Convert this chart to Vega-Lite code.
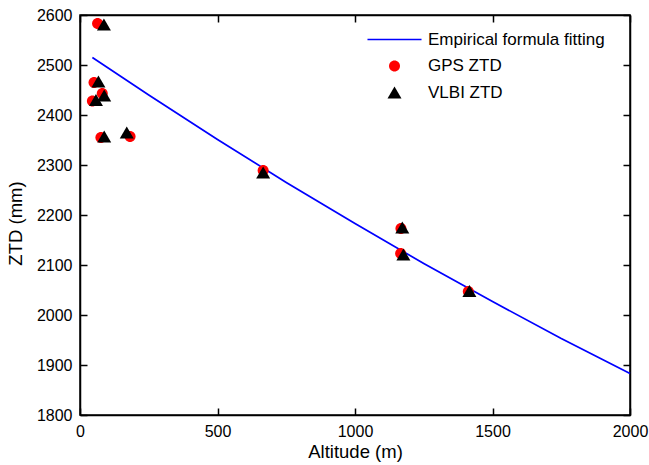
{
  "$schema": "https://vega.github.io/schema/vega-lite/v6.json",
  "width": 550,
  "height": 400,
  "autosize": {"type": "none"},
  "padding": {"left": 80, "top": 15, "right": 19, "bottom": 50},
  "background": "white",
  "config": {
    "font": "Liberation Sans",
    "view": {"stroke": "black", "strokeWidth": 1.5},
    "axis": {
      "domainColor": "black", "domainWidth": 1.5, "tickColor": "black", "tickWidth": 1.5, "ticks": true,
      "tickSize": -7, "grid": false, "labelFont": "Liberation Sans", "labelFontSize": 16,
      "labelColor": "black", "titleFont": "Liberation Sans", "titleFontSize": 18.5,
      "titleFontWeight": "normal", "titleColor": "black", "labelPadding": 15, "format": "d",
      "labelFlush": false, "labelOverlap": false
    },
    "legend": {"labelFont": "Liberation Sans", "labelFontSize": 17, "labelColor": "black", "labelLimit": 400}
  },
  "datasets": {
    "fit": [
      {"alt": 45, "ztd": 2515}, {"alt": 250, "ztd": 2440}, {"alt": 500, "ztd": 2351},
      {"alt": 750, "ztd": 2265}, {"alt": 1000, "ztd": 2183}, {"alt": 1250, "ztd": 2103},
      {"alt": 1500, "ztd": 2027}, {"alt": 1750, "ztd": 1953}, {"alt": 2000, "ztd": 1883}
    ],
    "pts": [
      {"series": "GPS ZTD", "alt": 64, "ztd": 2583},
      {"series": "GPS ZTD", "alt": 51, "ztd": 2465},
      {"series": "GPS ZTD", "alt": 81, "ztd": 2443},
      {"series": "GPS ZTD", "alt": 45, "ztd": 2428},
      {"series": "GPS ZTD", "alt": 76, "ztd": 2355},
      {"series": "GPS ZTD", "alt": 182, "ztd": 2357},
      {"series": "GPS ZTD", "alt": 666, "ztd": 2289},
      {"series": "GPS ZTD", "alt": 1167, "ztd": 2173},
      {"series": "GPS ZTD", "alt": 1166, "ztd": 2123},
      {"series": "GPS ZTD", "alt": 1412, "ztd": 2047},
      {"series": "VLBI ZTD", "alt": 87, "ztd": 2581},
      {"series": "VLBI ZTD", "alt": 67, "ztd": 2467},
      {"series": "VLBI ZTD", "alt": 88, "ztd": 2439},
      {"series": "VLBI ZTD", "alt": 58, "ztd": 2430},
      {"series": "VLBI ZTD", "alt": 88, "ztd": 2357},
      {"series": "VLBI ZTD", "alt": 170, "ztd": 2365},
      {"series": "VLBI ZTD", "alt": 666, "ztd": 2285},
      {"series": "VLBI ZTD", "alt": 1172, "ztd": 2175},
      {"series": "VLBI ZTD", "alt": 1176, "ztd": 2121},
      {"series": "VLBI ZTD", "alt": 1416, "ztd": 2048}
    ]
  },
  "layer": [
    {
      "data": {"name": "fit"},
      "mark": {"type": "line", "color": "#0000ff", "strokeWidth": 1.7},
      "encoding": {
        "x": {"field": "alt", "type": "quantitative", "scale": {"domain": [0, 2000], "nice": false},
              "axis": {"values": [0, 500, 1000, 1500, 2000], "title": "Altitude (m)", "titleY": 36, "titleBaseline": "middle"}},
        "y": {"field": "ztd", "type": "quantitative", "scale": {"domain": [1800, 2600], "nice": false, "zero": false},
              "axis": {"values": [1800, 1900, 2000, 2100, 2200, 2300, 2400, 2500, 2600], "title": "ZTD (mm)", "titleX": -65, "titleY": 208, "titleBaseline": "middle"}}
      }
    },
    {
      "data": {"name": "pts"},
      "mark": {"type": "point", "filled": true, "opacity": 1, "size": 196},
      "encoding": {
        "x": {"field": "alt", "type": "quantitative", "axis": {"orient": "top", "labels": false, "title": null, "values": [0, 500, 1000, 1500, 2000]}},
        "y": {"field": "ztd", "type": "quantitative", "axis": {"orient": "right", "labels": false, "title": null, "values": [1800, 1900, 2000, 2100, 2200, 2300, 2400, 2500, 2600]}},
        "color": {"field": "series", "type": "nominal",
          "scale": {"domain": ["Empirical formula fitting", "GPS ZTD", "VLBI ZTD"], "range": ["#0000ff", "#ff0000", "#000000"]},
          "legend": {"title": null, "orient": "none", "legendX": 306, "legendY": 16, "padding": 0, "symbolSize": 196, "labelOffset": 25, "rowPadding": 7.5, "gridAlign": "all", "symbolOpacity": 1, "labelLimit": 400}},
        "shape": {"field": "series", "type": "nominal",
          "scale": {"domain": ["Empirical formula fitting", "GPS ZTD", "VLBI ZTD"],
                    "range": ["M-3.86,-0.12H3.86V0.12H-3.86Z", "M-0.786,0A0.786,0.786,0,1,1,0.786,0A0.786,0.786,0,1,1,-0.786,0Z", "triangle-up"]},
          "legend": {"title": null, "orient": "none", "legendX": 306, "legendY": 16, "padding": 0, "symbolSize": 196, "labelOffset": 25, "rowPadding": 7.5, "gridAlign": "all", "symbolOpacity": 1, "labelLimit": 400}}
      }
    }
  ],
  "resolve": {"axis": {"x": "independent", "y": "independent"}}
}
